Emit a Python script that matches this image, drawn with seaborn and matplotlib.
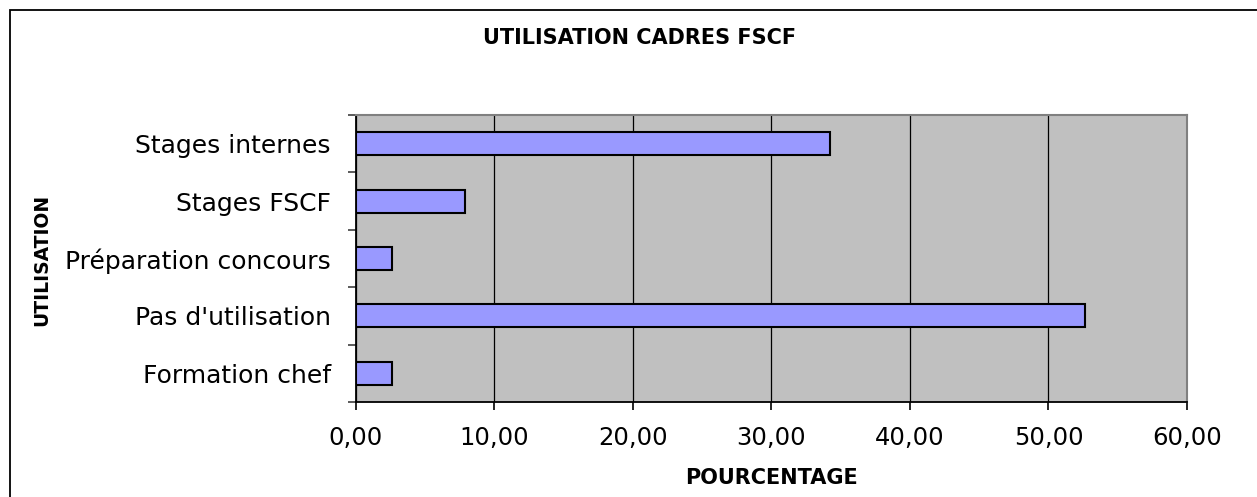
import pandas as pd
import matplotlib
matplotlib.use("Agg")
import matplotlib.pyplot as plt
import seaborn as sns
from matplotlib.patches import Rectangle
from matplotlib.ticker import FuncFormatter, MultipleLocator, FixedLocator

# données (pourcentages)
categories = ["Stages internes", "Stages FSCF", "Préparation concours",
              "Pas d'utilisation", "Formation chef"]
pourcentages = [34.21, 7.89, 2.63, 52.63, 2.63]
titre = "UTILISATION CADRES FSCF"
label_x = "POURCENTAGE"
label_y = "UTILISATION"

df = pd.DataFrame({"categorie": categories, "pct": pourcentages})

sns.set_style("white")
plt.rcParams["font.family"] = ["DejaVu Sans"]
plt.rcParams["text.color"] = "black"
plt.rcParams["xtick.color"] = "black"
plt.rcParams["ytick.color"] = "black"

fig = plt.figure(figsize=(12.57, 4.97), dpi=100)
ax = fig.add_axes([0.2832, 0.1911, 0.6611, 0.5775])
ax.set_facecolor("#C0C0C0")

sns.barplot(data=df, x="pct", y="categorie", orient="h", color="#9999FF",
            edgecolor="black", linewidth=1.5, width=0.4, saturation=1, ax=ax)

ax.set_xlim(0, 60)
ax.set_ylim(4.5, -0.5)
ax.xaxis.set_major_locator(MultipleLocator(10))
ax.xaxis.set_major_formatter(FuncFormatter(lambda v, p: f"{v:.2f}".replace(".", ",")))
ax.xaxis.grid(True, color="black", linewidth=0.9)
ax.set_axisbelow(True)

# graduations entre les catégories (style tableur)
ax.yaxis.set_minor_locator(FixedLocator([i - 0.5 for i in range(len(categories) + 1)]))
ax.tick_params(axis="y", which="both", left=True)
ax.tick_params(axis="x", which="major", bottom=True)
ax.tick_params(axis="y", which="major", length=0, pad=18, labelsize=18)
ax.tick_params(axis="y", which="minor", length=5.5, width=1.2, color="#404040", direction="out")
ax.tick_params(axis="x", which="major", length=5.5, width=1.2, color="black",
               direction="out", pad=12, labelsize=17.5)
ax.set_xlabel("")
ax.set_ylabel("")

for s in ["left", "bottom"]:
    ax.spines[s].set_color("black")
    ax.spines[s].set_linewidth(1.3)
for s in ["top", "right"]:
    ax.spines[s].set_color("#808080")
    ax.spines[s].set_linewidth(1.5)

fig.text(0.509, 0.9235, titre, ha="center", va="center",
         fontsize=15, fontweight="bold")
fig.text(0.614, 0.038, label_x, ha="center", va="center",
         fontsize=15, fontweight="bold")
fig.text(0.0334, 0.477, label_y, ha="center", va="center",
         fontsize=13.5, fontweight="bold", rotation=90)

# cadre autour du graphique
fig.add_artist(Rectangle((10 / 1257, -0.1), 1.2, 1 - 10 / 497 + 0.1,
                         transform=fig.transFigure, fill=False,
                         edgecolor="black", linewidth=1.3))

fig.savefig("out.png", dpi=100)
plt.close(fig)
